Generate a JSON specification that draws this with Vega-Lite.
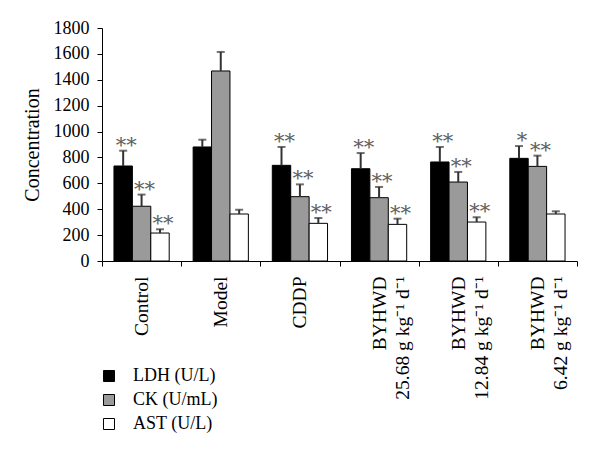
{
  "$schema": "https://vega.github.io/schema/vega-lite/v6.json",
  "width": 475,
  "height": 233,
  "autosize": "none",
  "padding": {"left": 102, "top": 28, "right": 23, "bottom": 199},
  "config": {
    "view": {"stroke": null},
    "font": "Liberation Serif",
    "axisY": {
      "titleFontSize": 20,
      "titleFontWeight": "normal",
      "titleColor": "#000",
      "titlePadding": 11,
      "titleFont": "Liberation Serif",
      "format": "d",
      "labelOverlap": false,
      "labelFlush": false,
      "grid": false,
      "labelFontSize": 18,
      "labelColor": "#000",
      "labelFont": "Liberation Serif",
      "tickSize": 5,
      "labelPadding": 8,
      "domainColor": "#000",
      "tickColor": "#000"
    }
  },
  "data": {
    "values": [
      {"group": "Control", "measure": "LDH (U/L)", "value": 734, "upper": 852, "star": "**"},
      {"group": "Control", "measure": "CK (U/mL)", "value": 423, "upper": 513, "star": "**"},
      {"group": "Control", "measure": "AST (U/L)", "value": 216, "upper": 245, "star": "**"},
      {"group": "Model", "measure": "LDH (U/L)", "value": 881, "upper": 937, "star": ""},
      {"group": "Model", "measure": "CK (U/mL)", "value": 1468, "upper": 1615, "star": ""},
      {"group": "Model", "measure": "AST (U/L)", "value": 363, "upper": 396, "star": ""},
      {"group": "CDDP", "measure": "LDH (U/L)", "value": 739, "upper": 881, "star": "**"},
      {"group": "CDDP", "measure": "CK (U/mL)", "value": 497, "upper": 592, "star": "**"},
      {"group": "CDDP", "measure": "AST (U/L)", "value": 291, "upper": 332, "star": "**"},
      {"group": "BYHWD|25.68 g kg⁻¹ d⁻¹", "measure": "LDH (U/L)", "value": 713, "upper": 834, "star": "**"},
      {"group": "BYHWD|25.68 g kg⁻¹ d⁻¹", "measure": "CK (U/mL)", "value": 489, "upper": 572, "star": "**"},
      {"group": "BYHWD|25.68 g kg⁻¹ d⁻¹", "measure": "AST (U/L)", "value": 283, "upper": 327, "star": "**"},
      {"group": "BYHWD|12.84 g kg⁻¹ d⁻¹", "measure": "LDH (U/L)", "value": 765, "upper": 881, "star": "**"},
      {"group": "BYHWD|12.84 g kg⁻¹ d⁻¹", "measure": "CK (U/mL)", "value": 610, "upper": 688, "star": "**"},
      {"group": "BYHWD|12.84 g kg⁻¹ d⁻¹", "measure": "AST (U/L)", "value": 301, "upper": 338, "star": "**"},
      {"group": "BYHWD|6.42 g kg⁻¹ d⁻¹", "measure": "LDH (U/L)", "value": 793, "upper": 888, "star": "*"},
      {"group": "BYHWD|6.42 g kg⁻¹ d⁻¹", "measure": "CK (U/mL)", "value": 731, "upper": 814, "star": "**"},
      {"group": "BYHWD|6.42 g kg⁻¹ d⁻¹", "measure": "AST (U/L)", "value": 363, "upper": 384, "star": ""}
    ]
  },
  "encoding": {
    "x": {
      "field": "group",
      "type": "nominal",
      "sort": null,
      "scale": {"paddingInner": 0, "paddingOuter": 0},
      "axis": {
        "title": null,
        "labelAngle": -90,
        "labelFontSize": 19.5,
        "labelColor": "#000",
        "labelFont": "Liberation Serif",
        "domainColor": "#000",
        "tickColor": "#000",
        "tickBand": "extent",
        "tickSize": 5,
        "labelPadding": 10,
        "labelLineHeight": 23,
        "labelOverlap": false,
        "labelExpr": "split(datum.label, '|')"
      }
    },
    "xOffset": {
      "field": "measure",
      "type": "nominal",
      "sort": ["LDH (U/L)", "CK (U/mL)", "AST (U/L)"],
      "scale": {"paddingInner": 0, "paddingOuter": 0.65}
    }
  },
  "layer": [
    {
      "mark": {"type": "bar", "stroke": "#000", "strokeWidth": 1},
      "encoding": {
        "y": {
          "field": "value",
          "type": "quantitative",
          "scale": {"domain": [0, 1800]},
          "axis": {"title": "Concentration", "tickCount": 20, "values": [0, 200, 400, 600, 800, 1000, 1200, 1400, 1600, 1800]}
        },
        "fill": {
          "field": "measure",
          "type": "nominal",
          "sort": ["LDH (U/L)", "CK (U/mL)", "AST (U/L)"],
          "scale": {"domain": ["LDH (U/L)", "CK (U/mL)", "AST (U/L)"], "range": ["#000000", "#9a9a9a", "#ffffff"]},
          "legend": {
            "title": null,
            "orient": "none",
            "legendX": -2,
            "legendY": 339,
            "symbolType": "square",
            "symbolSize": 121,
            "symbolStrokeColor": "#000",
            "symbolStrokeWidth": 1,
            "symbolOpacity": 1,
            "labelFontSize": 18,
            "labelColor": "#000",
            "labelFont": "Liberation Serif",
            "labelOffset": 15,
            "rowPadding": 6
          }
        }
      }
    },
    {
      "mark": {"type": "rule", "color": "#333", "strokeWidth": 2},
      "encoding": {
        "y": {"field": "value", "type": "quantitative", "axis": {"title": "Concentration", "tickCount": 20, "values": [0, 200, 400, 600, 800, 1000, 1200, 1400, 1600, 1800]}},
        "y2": {"field": "upper"}
      }
    },
    {
      "mark": {"type": "tick", "color": "#333", "thickness": 2, "size": 8},
      "encoding": {
        "y": {"field": "upper", "type": "quantitative", "axis": {"title": "Concentration", "tickCount": 20, "values": [0, 200, 400, 600, 800, 1000, 1200, 1400, 1600, 1800]}}
      }
    },
    {
      "mark": {"type": "text", "font": "DejaVu Serif", "fontSize": 21, "color": "#606060", "dx": 3, "dy": 5, "baseline": "bottom"},
      "encoding": {
        "y": {"field": "upper", "type": "quantitative", "axis": {"title": "Concentration", "tickCount": 20, "values": [0, 200, 400, 600, 800, 1000, 1200, 1400, 1600, 1800]}},
        "text": {"field": "star"}
      }
    }
  ]
}
